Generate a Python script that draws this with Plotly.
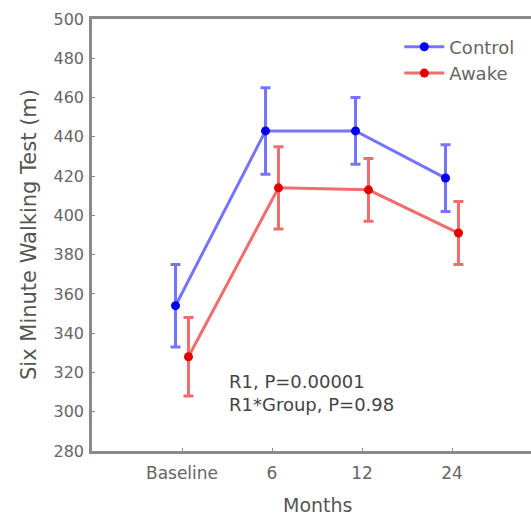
import plotly.graph_objects as go

categories = ["Baseline", "6", "12", "24"]
control_mean = [354, 443, 443, 419]
control_err = [21, 22, 17, 17]
awake_mean = [328, 414, 413, 391]
awake_err = [20, 21, 16, 16]
y_ticks = list(range(280, 501, 20))
annot_lines = ["R1, P=0.00001", "R1*Group, P=0.98"]

FONT = "DejaVu Sans"
pos = list(range(1, len(categories) + 1))
off = 0.072

fig = go.Figure()
series = [
    ("Control", control_mean, control_err, -off, "rgba(70,70,255,0.75)", "#0000ee"),
    ("Awake", awake_mean, awake_err, off, "rgba(235,60,60,0.75)", "#e00000"),
]
for name, m, e, o, lc, mc in series:
    fig.add_trace(go.Scatter(
        x=[p + o for p in pos], y=m, name=name, mode="lines+markers",
        line=dict(color=lc, width=3),
        marker=dict(color=mc, size=9),
        error_y=dict(type="data", array=e, visible=True, color=lc, thickness=3, width=5),
    ))

fig.update_layout(
    width=531, height=518,
    margin=dict(l=92, r=0, t=19, b=67),
    plot_bgcolor="white", paper_bgcolor="white",
    font=dict(family=FONT, size=17, color="#666666"),
    showlegend=True,
    legend=dict(x=0.70, y=0.978, xanchor="left", yanchor="top",
                font=dict(size=18, color="#666666"), bgcolor="rgba(0,0,0,0)",
                tracegroupgap=0, itemwidth=40),
    xaxis=dict(range=[0, 439 / 90], tickvals=pos, ticktext=categories,
               showgrid=False, zeroline=False, showline=True, linecolor="#8a8a8a",
               linewidth=2.5, mirror=True, ticks="inside", ticklen=3, tickcolor="#8a8a8a",
               ticklabelstandoff=5,
               tickfont=dict(size=17, color="#666666")),
    yaxis=dict(range=[280, 500], tickvals=y_ticks, showgrid=False, zeroline=False,
               showline=True, linecolor="#8a8a8a", linewidth=2.5, ticks="inside",
               ticklen=3, tickcolor="#8a8a8a", ticklabelstandoff=2,
               tickfont=dict(size=16, color="#666666")),
)

fig.add_annotation(text="Six Minute Walking Test (m)", xref="paper", yref="paper",
                   x=0, y=0.5, xshift=-63, textangle=-90, showarrow=False,
                   xanchor="center", yanchor="middle",
                   font=dict(size=21, color="#555555"))
fig.add_annotation(text="Months", xref="x", yref="paper", x=2.5, y=0, yshift=-54,
                   showarrow=False, xanchor="center", yanchor="middle",
                   font=dict(size=19, color="#555555"))
fig.add_annotation(text="<br>".join(annot_lines), xref="x", yref="y", x=1.5, y=322,
                   showarrow=False, xanchor="left", yanchor="top", align="left",
                   font=dict(size=18, color="#444444"))

fig.write_html("out.html")
